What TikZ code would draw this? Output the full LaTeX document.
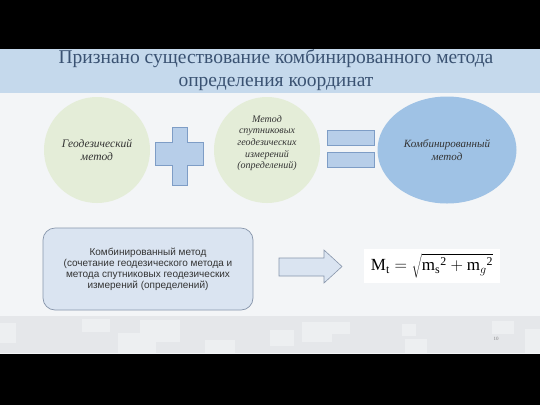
\documentclass[tikz,border=0pt]{standalone}
\usepackage{fontspec}
\setmainfont{Liberation Serif}
\newfontfamily\boxfont{Liberation Sans}
\usetikzlibrary{shapes.geometric}
\definecolor{slidebg}{HTML}{F3F5F7}
\definecolor{titleband}{HTML}{C5D9EC}
\definecolor{titletext}{HTML}{3A5272}
\definecolor{circgreen}{HTML}{E4EDD8}
\definecolor{opfill}{HTML}{B7CEE9}
\definecolor{opline}{HTML}{7E9DC6}
\definecolor{ellfill}{HTML}{9FC2E5}
\definecolor{boxfill}{HTML}{DAE4F1}
\definecolor{boxline}{HTML}{8795AB}
\definecolor{footer}{HTML}{E5E7EA}
\definecolor{footsq}{HTML}{EDEFF1}
\definecolor{darktext}{HTML}{333333}
\tikzset{
  circnode/.style={circle, fill=circgreen, minimum size=106pt, inner sep=0pt, align=center, text=darktext},
  opshape/.style={fill=opfill, draw=opline, line width=0.6pt},
  circtext/.style={font=\fontsize{11.5}{13.5}\selectfont\itshape},
}
\begin{document}
\begin{tikzpicture}[x=1pt,y=-1pt]
\useasboundingbox (0,0) rectangle (540,405);
\fill[black] (0,0) rectangle (540,405);
\fill[slidebg] (0,49) rectangle (540,354);
% title band
\fill[titleband] (0,49) rectangle (540,93);
\node[text=titletext, align=center, font=\fontsize{19.5}{23}\selectfont] (title) at (276,70)
  {Признано существование комбинированного метода\\определения координат};
% footer
\fill[footer] (0,316) rectangle (540,353);
\foreach \x/\y/\w/\h in {0/323/16/20, 82/319/28/13, 118/333/38/20, 140/320/40/22, 205/340/30/13, 270/330/24/16, 302/322/30/20, 330/322/20/12, 402/324/14/12, 405/339/22/14, 492/321/22/13, 525/329/15/24}
  \fill[footsq] (\x,\y) rectangle ++(\w,\h);
\node[font=\fontsize{5}{6}\selectfont, text=gray] (pagenum) at (496,339) {10};
% circles
\node[circnode, circtext] (geo) at (97,150) {Геодезический\\метод};
\node[circnode] (sat) at (267,150) {};
\node[align=center, text=darktext, font=\fontsize{10}{11.7}\selectfont\itshape] (sattext) at (267,143)
  {Метод\\спутниковых\\геодезических\\измерений\\(определений)};
\node[ellipse, fill=ellfill, minimum width=139pt, minimum height=107pt, inner sep=0pt,
  align=center, text=darktext, font=\fontsize{11}{13.5}\selectfont\itshape] (comb) at (447,150) {Комбинированный\\метод};
% plus
\draw[opshape] (172,127) -- (187,127) -- (187,142) -- (203,142) -- (203,165) -- (187,165)
  -- (187,185) -- (172,185) -- (172,165) -- (155,165) -- (155,142) -- (172,142) -- cycle;
\coordinate (plus) at (179,156);
% equals
\draw[opshape] (327,130) rectangle (374,145);
\draw[opshape] (327,152) rectangle (374,167);
% bottom box
\node[draw=boxline, fill=boxfill, rounded corners=12pt, line width=0.7pt,
  minimum width=210pt, minimum height=82pt, align=center, text=darktext,
  font=\boxfont\fontsize{10}{11}\selectfont] (desc) at (148,269)
  {Комбинированный метод\\(сочетание геодезического метода и\\метода спутниковых геодезических\\измерений (определений)};
% arrow
\draw[fill=boxfill, draw=boxline, line width=0.6pt]
  (279,258) -- (324,258) -- (324,250) -- (342,266.5) -- (324,283) -- (324,276) -- (279,276) -- cycle;
\coordinate (arrowtip) at (342,266.5);
% formula
\fill[white] (364,249) rectangle (500,283);
\node[text=black, font=\fontsize{17}{19}\selectfont] (formula) at (432,266)
  {$\mathrm{M}_{\mathrm{t}} = \sqrt{\mathrm{m}_{\mathrm{s}}{}^{\mathrm{2}} + \mathrm{m}_{g}{}^{\mathrm{2}}}$};
\end{tikzpicture}
\end{document}
